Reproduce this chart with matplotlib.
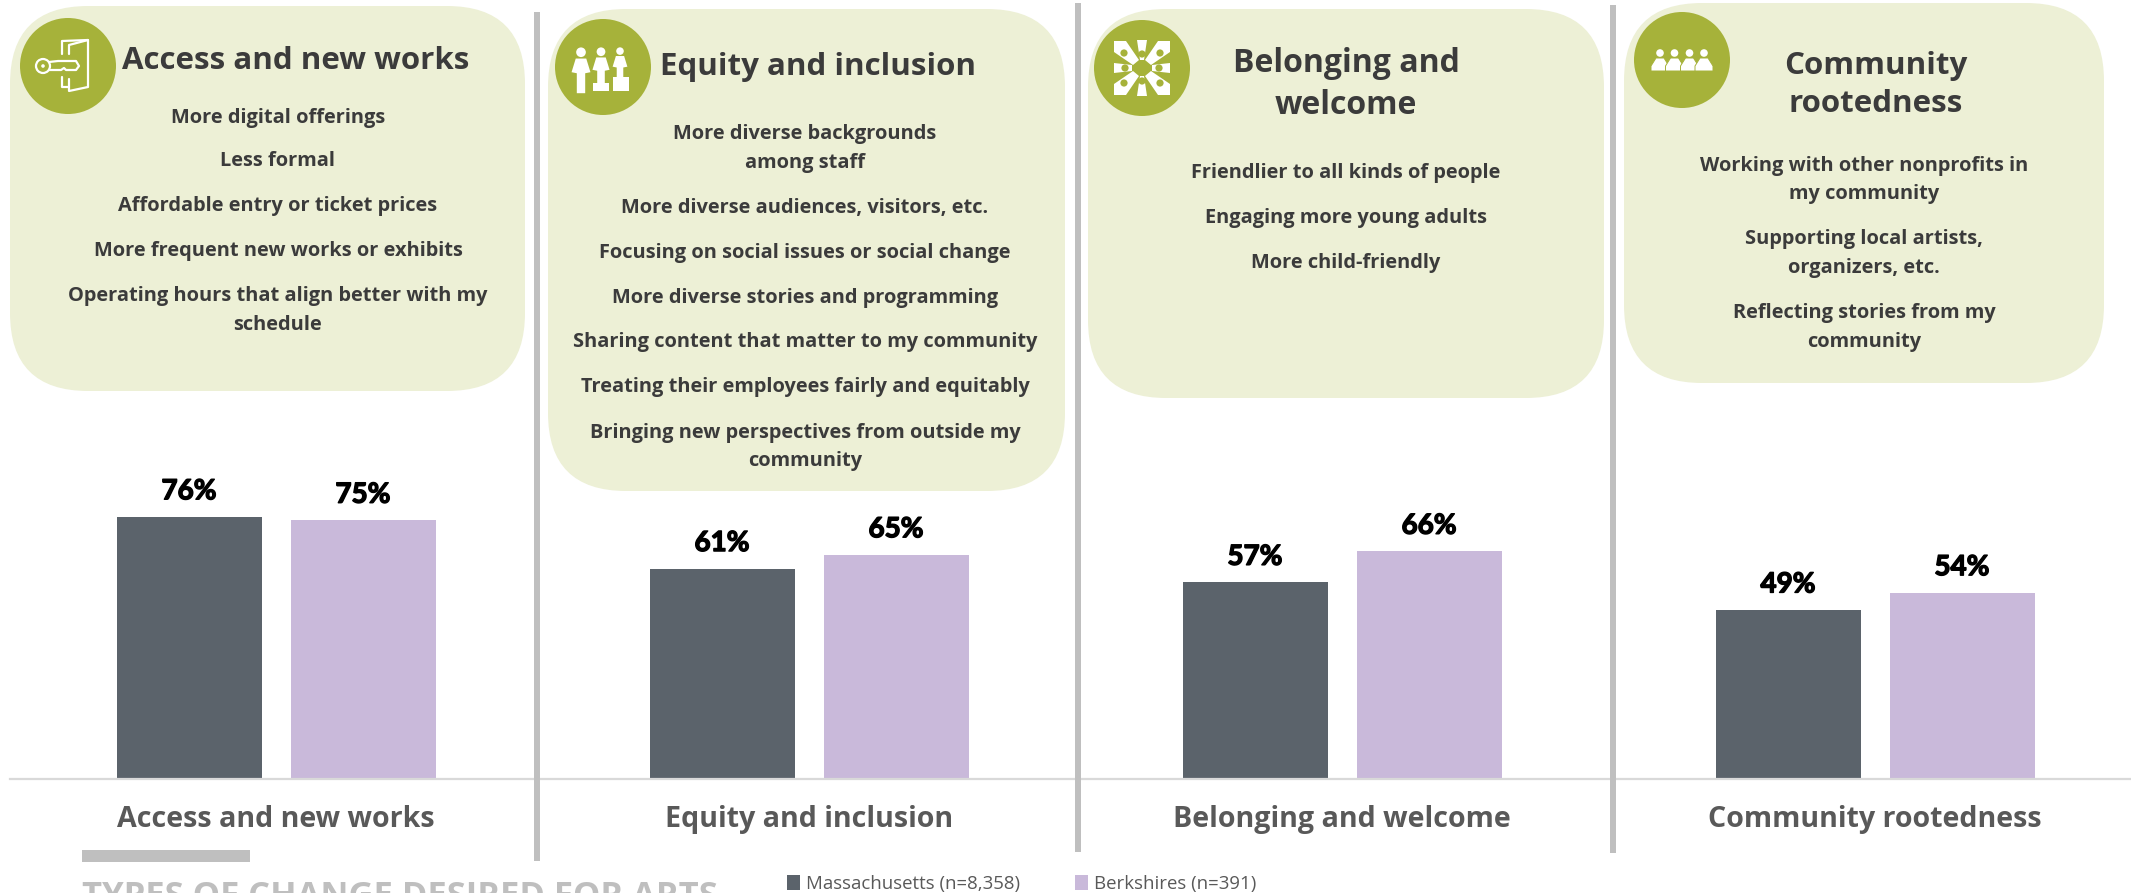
import matplotlib
matplotlib.use("Agg")
import matplotlib.pyplot as plt
import matplotlib.patheffects as pe
from matplotlib.patches import Circle, FancyBboxPatch, Polygon, Rectangle

W, H = 2131, 893
TEXT_FONT = ["Open Sans", "DejaVu Sans"]
HEAD_FONT = ["Lato", "DejaVu Sans"]

categories = ["Access and new works", "Equity and inclusion", "Belonging and welcome", "Community rootedness"]
massachusetts = [76, 61, 57, 49]
berkshires = [75, 65, 66, 54]
legend_labels = ["Massachusetts (n=8,358)", "Berkshires (n=391)"]
chart_title = "TYPES OF CHANGE DESIRED FOR ARTS"

card_titles = ["Access and new works", "Equity and inclusion", "Belonging and\nwelcome", "Community\nrootedness"]
card_1_lines = ["More digital offerings", "Less formal", "Affordable entry or ticket prices",
                "More frequent new works or exhibits", "Operating hours that align better with my", "schedule"]
card_2_lines = ["More diverse backgrounds", "among staff", "More diverse audiences, visitors, etc.",
                "Focusing on social issues or social change", "More diverse stories and programming",
                "Sharing content that matter to my community", "Treating their employees fairly and equitably",
                "Bringing new perspectives from outside my", "community"]
card_3_lines = ["Friendlier to all kinds of people", "Engaging more young adults", "More child-friendly"]
card_4_lines = ["Working with other nonprofits in", "my community", "Supporting local artists,",
                "organizers, etc.", "Reflecting stories from my", "community"]

DARK = "#5B636B"
LILAC = "#C9B9DA"
CARD = "#EDF0D6"
OLIVE = "#A6B23A"
INK = "#3B3B3B"
SEP = "#BFBFBF"

fig = plt.figure(figsize=(W / 100, H / 100), dpi=100, facecolor="white")

# bars: y axis is percent, 3.45 px per point, baseline at y=779 px
base_y = 779
left_px = 10
ax = fig.add_axes([left_px / W, (H - base_y) / H, (W - left_px) / W, base_y / H])
ax.patch.set_visible(False)
x0, step = 276, 533
ax.set_xlim((left_px - x0) / step, (W - x0) / step)
ax.set_ylim(0, base_y / 3.45)
bw = 145 / step
off = 87 / step
xs = list(range(len(categories)))
b1 = ax.bar([x - off for x in xs], massachusetts, bw, color=DARK, label=legend_labels[0])
b2 = ax.bar([x + off for x in xs], berkshires, bw, color=LILAC, label=legend_labels[1])
for b in (b1, b2):
    for t in ax.bar_label(b, fmt="%d%%", padding=9, fontsize=20, fontweight="bold", family=HEAD_FONT, color="black"):
        t.set_path_effects([pe.withStroke(linewidth=1.0, foreground="black")])
for s in ["top", "left", "right"]:
    ax.spines[s].set_visible(False)
ax.spines["bottom"].set_color("#D9D9D9")
ax.spines["bottom"].set_linewidth(1.6)
ax.set_yticks([])
ax.set_xticks(xs)
ax.set_xticklabels(categories, fontsize=20.6, fontweight="bold", family=TEXT_FONT, color="#595959")
ax.tick_params(axis="x", length=0, pad=19)

leg = ax.legend(loc="upper left", bbox_to_anchor=(787 / W, 1 - 875 / H), bbox_transform=fig.transFigure,
                ncol=2, frameon=False, handlelength=0.72, handleheight=0.8, handletextpad=0.3,
                columnspacing=2.95, borderpad=0, borderaxespad=0, labelcolor="#595959",
                prop={"family": TEXT_FONT, "size": 13.4})

# everything else is in pixel coordinates of the reference
deco = fig.add_axes([0, 0, 1, 1], zorder=3)
deco.set_xlim(0, W)
deco.set_ylim(H, 0)
deco.axis("off")


def card(x1, y1, x2, y2, r=78):
    deco.add_patch(FancyBboxPatch((x1 + r, y1 + r), x2 - x1 - 2 * r, y2 - y1 - 2 * r,
                                  boxstyle=f"round,pad={r},rounding_size={r}", fc=CARD, ec="none"))


def put_lines(cx, ys, lines):
    for y, t in zip(ys, lines):
        deco.text(cx, y, t, ha="center", va="center", fontsize=14.4, fontweight="bold",
                  family=TEXT_FONT, color=INK)


def person(cx, top, s=1.0):
    deco.add_patch(Circle((cx, top + 5 * s), 4.6 * s, fc="white", ec="none"))
    deco.add_patch(Polygon([(cx - 5 * s, top + 11 * s), (cx + 5 * s, top + 11 * s), (cx + 9 * s, top + 24 * s),
                            (cx + 4 * s, top + 25 * s), (cx + 4 * s, top + 44 * s), (cx - 4 * s, top + 44 * s),
                            (cx - 4 * s, top + 25 * s), (cx - 9 * s, top + 24 * s)], fc="white", ec="none"))


def key_door(cx, cy):
    kw = dict(color="white", lw=1.6, solid_capstyle="round", solid_joinstyle="round")
    deco.plot([cx - 6, cx - 6, cx + 20, cx + 20, cx + 1, cx + 1], [cy - 12, cy - 25, cy - 26, cy + 21, cy + 25, cy + 13], **kw)
    deco.plot([cx + 1, cx + 1, cx + 20], [cy - 12, cy - 21, cy - 26], **kw)
    deco.plot([cx - 6, cx - 6, cx + 1], [cy + 11, cy + 21, cy + 21], **kw)
    deco.add_patch(Circle((cx - 25, cy), 7, fc="none", ec="white", lw=1.6))
    deco.add_patch(Circle((cx - 25, cy), 1.8, fc="white", ec="none"))
    deco.plot([cx - 19, cx - 10, cx + 8, cx + 11, cx + 8, cx - 2, cx - 4, cx - 7, cx - 10, cx - 19],
              [cy - 4, cy - 5, cy - 5, cy, cy + 4, cy + 4, cy + 2, cy + 4, cy + 4, cy + 4], **kw)


def hands(cx, cy):
    # eight hands pointing inward, reduced to white wedges
    wedges = [[(-28, -27), (-16, -27), (-3, -8), (-9, -3), (-28, -16)],
              [(28, -27), (16, -27), (3, -8), (9, -3), (28, -16)],
              [(-28, 27), (-16, 27), (-3, 8), (-9, 3), (-28, 16)],
              [(28, 27), (16, 27), (3, 8), (9, 3), (28, 16)],
              [(-5, -28), (5, -28), (2, -8), (-2, -8)],
              [(-5, 28), (5, 28), (2, 8), (-2, 8)],
              [(-28, -5), (-28, 5), (-10, 3), (-10, -3)],
              [(28, -5), (28, 5), (10, 3), (10, -3)]]
    for w in wedges:
        deco.add_patch(Polygon([(cx + a, cy + b) for a, b in w], fc="white", ec="none"))
    for a, b in [(-18, -15), (18, -15), (-18, 15), (18, 15), (0, 13), (0, -14), (-17, 0), (17, 0)]:
        deco.add_patch(Circle((cx + a, cy + b), 3.6, fc=OLIVE, ec="none"))


def group(cx, cy):
    for dx in (-22, -7.5, 7.5, 22):
        deco.add_patch(Circle((cx + dx, cy - 7), 3.8, fc="white", ec="none"))
        deco.add_patch(Polygon([(cx + dx - 4, cy - 2), (cx + dx + 4, cy - 2), (cx + dx + 9, cy + 6), (cx + dx + 9, cy + 11),
                                (cx + dx - 9, cy + 11), (cx + dx - 9, cy + 6)], fc="white", ec=OLIVE, lw=0.7))


card(10, 6, 525, 391)
card(548, 9, 1065, 491)
card(1088, 9, 1604, 398)
card(1624, 3, 2104, 383)

for cx, cy in [(68, 66), (603, 67), (1142, 68), (1682, 60)]:
    deco.add_patch(Circle((cx, cy), 48, fc=OLIVE, ec="none"))
key_door(68, 66)
person(581, 47, 1.05)
person(601, 47, 0.95)
person(620, 47, 0.82)
deco.add_patch(Rectangle((593, 83), 16, 8, fc="white", ec="none"))
deco.add_patch(Rectangle((613, 77), 16, 14, fc="white", ec="none"))
hands(1142, 68)
group(1682, 60)

for (cx, cy), t, fs in zip([(296, 61), (818, 67), (1346, 85), (1876, 85)], card_titles, [22.5, 22.5, 23, 22.5]):
    deco.text(cx, cy, t, ha="center", va="center", fontsize=fs, fontweight="bold", family=TEXT_FONT,
              color=INK, linespacing=1.36)

put_lines(278, [118, 161, 206, 251, 296, 325], card_1_lines)
put_lines(805, [134, 163, 208, 253, 298, 342, 387, 433, 461], card_2_lines)
put_lines(1346, [173, 218, 263], card_3_lines)
put_lines(1864, [166, 194, 239, 268, 313, 342], card_4_lines)

# separators
for x, y1, y2 in [(537, 12, 861), (1078, 3, 852), (1613, 5, 853)]:
    deco.add_patch(Rectangle((x - 3, y1), 6, y2 - y1, fc=SEP, ec="none"))

# title block, cut off by the lower edge as in the source
deco.add_patch(Rectangle((82, 850), 168, 12, fc=SEP, ec="none"))
deco.text(82, 880, chart_title, ha="left", va="top", fontsize=24.8, fontweight="bold", family=TEXT_FONT,
          color=SEP, clip_on=False)

fig.savefig("out.png", dpi=100, facecolor="white")
